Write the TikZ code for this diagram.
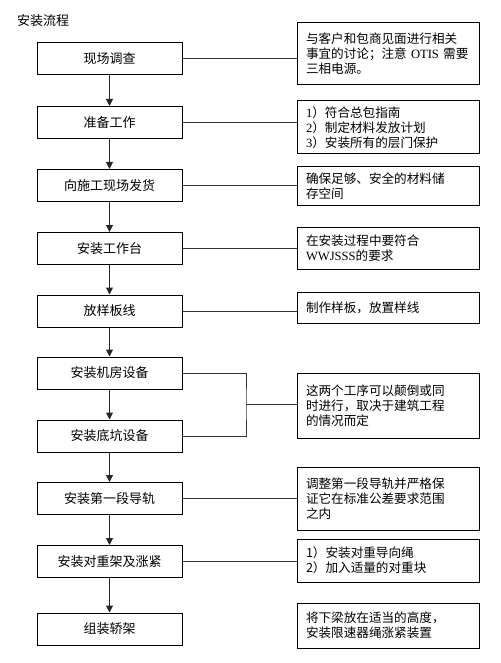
\documentclass[tikz,border=0pt]{standalone}
\usepackage{fontspec}
\newfontfamily\cjk{Noto Sans CJK SC}
\newfontfamily\lat{Liberation Serif}
\usetikzlibrary{arrows.meta,calc}
\begin{document}
\begin{tikzpicture}[x=1pt,y=-1pt,
  lbox/.style={draw=black, line width=1pt, minimum width=145pt, minimum height=32pt, inner sep=0pt,
    font=\cjk\fontsize{13}{15}\selectfont},
  rbox/.style={draw=black, line width=1pt, text width=164pt, inner xsep=9pt, inner ysep=0pt, align=left,
    font=\cjk\fontsize{12.6}{15}\selectfont},
  flow/.style={draw=black!85, line width=1pt, -{Triangle[length=7pt,width=7pt]}},
  link/.style={draw=black!80, line width=0.9pt}]
\useasboundingbox (0,0) rectangle (500,663);
\fill[white] (0,0) rectangle (500,663);
\node[anchor=west, inner sep=0pt, font=\cjk\fontsize{13}{15}\selectfont] (title) at (17,20.5) {安装流程};
% left column
\node[lbox] (b1)  at (109.5,58.5)  {现场调查};
\node[lbox] (b2)  at (109.5,122.5) {准备工作};
\node[lbox] (b3)  at (109.5,185.5) {向施工现场发货};
\node[lbox] (b4)  at (109.5,248.5) {安装工作台};
\node[lbox] (b5)  at (109.5,311)   {放样板线};
\node[lbox] (b6)  at (109.5,373)   {安装机房设备};
\node[lbox] (b7)  at (109.5,436)   {安装底坑设备};
\node[lbox] (b8)  at (109.5,498.5) {安装第一段导轨};
\node[lbox] (b9)  at (109.5,561.5) {安装对重架及涨紧};
\node[lbox] (b10) at (109.5,629)   {组装轿架};
% right column
\node[rbox, minimum height=62pt] (r1) at (388,54) {与客户和包商见面进行相关\\事宜的讨论；注意 {\lat OTIS} 需要\\三相电源。};
\node[rbox, minimum height=53pt] (r2) at (388,127.5) {{\lat 1}）符合总包指南\\{\lat 2}）制定材料发放计划\\{\lat 3}）安装所有的层门保护};
\node[rbox, minimum height=38pt] (r3) at (388,186) {确保足够、安全的材料储\\存空间};
\node[rbox, minimum height=42pt] (r4) at (388,248) {在安装过程中要符合\\{\lat WWJSSS}的要求};
\node[rbox, minimum height=31pt] (r5) at (388,307.5) {制作样板，放置样线};
\node[rbox, minimum height=65pt] (r6) at (388,405.5) {这两个工序可以颠倒或同\\时进行，取决于建筑工程\\的情况而定};
\node[rbox, minimum height=63pt] (r7) at (388,498.5) {调整第一段导轨并严格保\\证它在标准公差要求范围\\之内};
\node[rbox, minimum height=43pt] (r8) at (388,560.5) {1）安装对重导向绳\\2）加入适量的对重块};
\node[rbox, minimum height=45pt] (r9) at (388,625.5) {将下梁放在适当的高度，\\安装限速器绳涨紧装置};
% flow arrows
\foreach \a/\b in {b1/b2,b2/b3,b3/b4,b4/b5,b5/b6,b6/b7,b7/b8,b8/b9,b9/b10}
  \draw[flow] (\a.south) -- (\b.north);
% links
\foreach \a/\b in {b1/r1,b2/r2,b3/r3,b4/r4,b5/r5,b8/r7,b9/r8}
  \draw[link] (\a.east) -- (\a.east -| \b.west);
\coordinate (m) at ($(b6.east)!0.5!(b7.east) + (63.5,0)$);
\draw[link] (b6.east) -| (m) |- (b7.east);
\draw[link] (m) -- (m -| r6.west);
\end{tikzpicture}
\end{document}
